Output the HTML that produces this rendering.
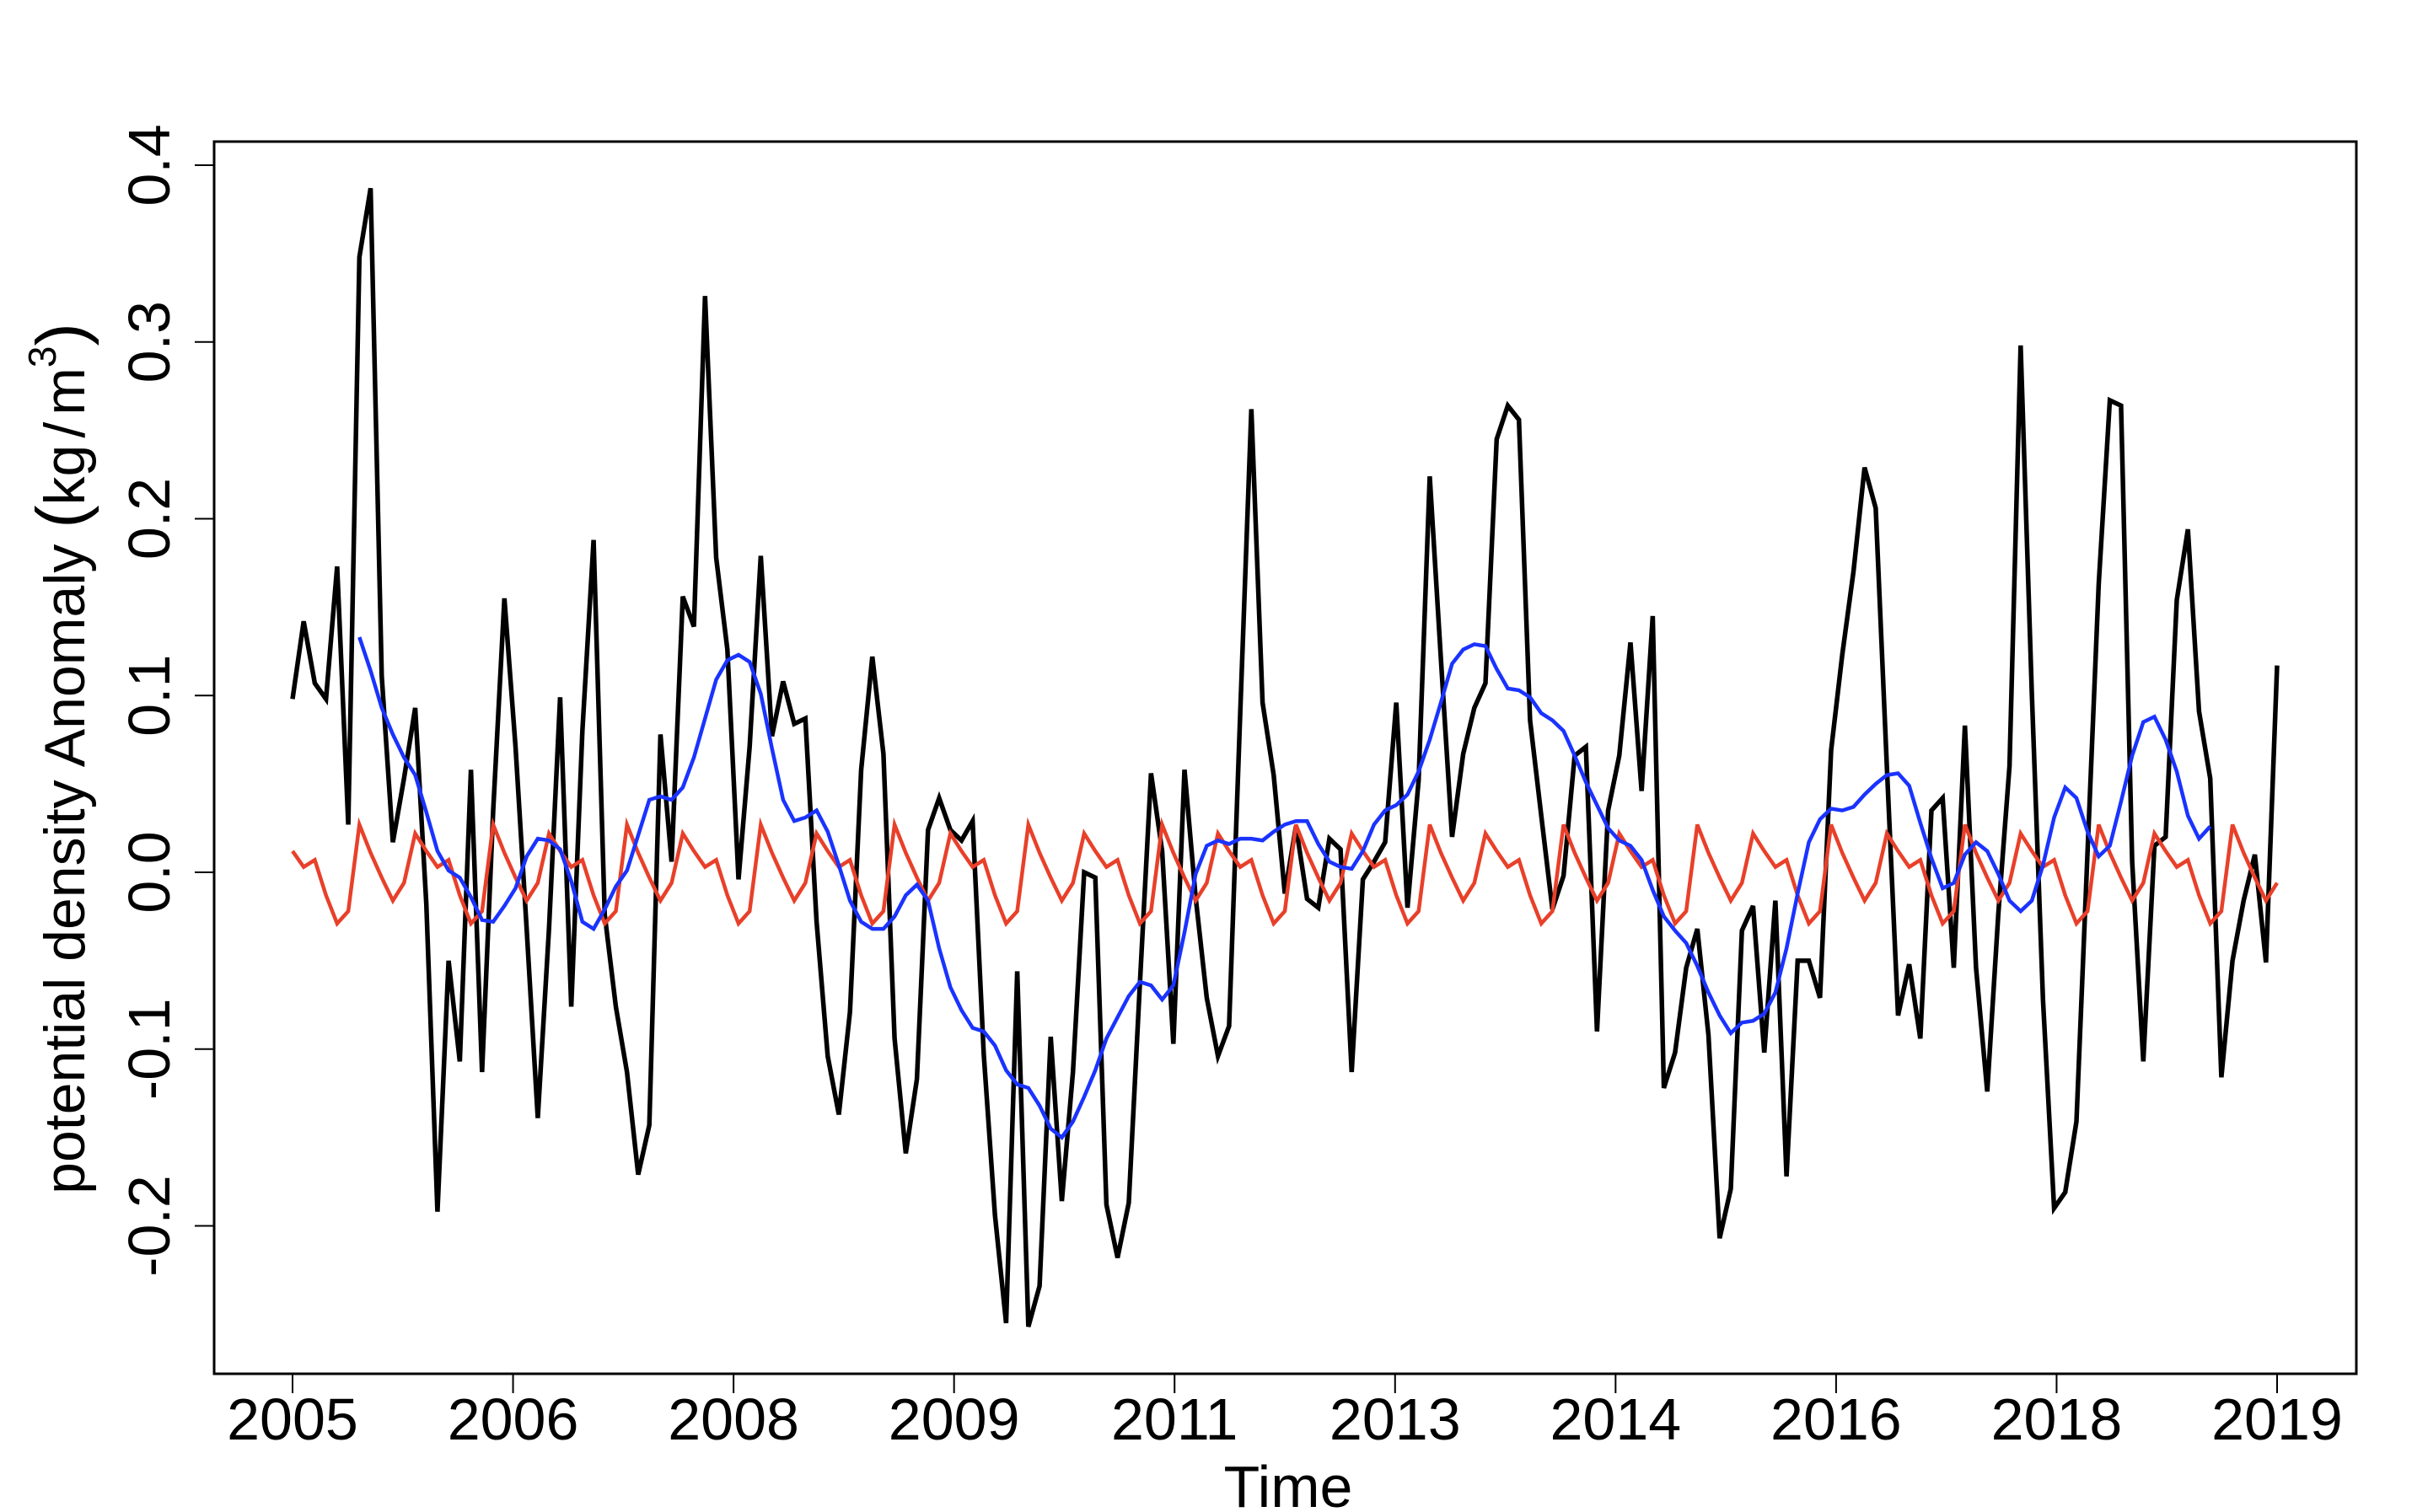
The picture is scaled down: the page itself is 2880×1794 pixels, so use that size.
<!DOCTYPE html>
<html><head><meta charset="utf-8"><style>
html,body{margin:0;padding:0;background:#fff;}
svg{display:block;font-family:"Liberation Sans",Arial,sans-serif;}
</style></head><body>
<svg id="chart" width="2880" height="1794" viewBox="0 0 2880 1794" xmlns="http://www.w3.org/2000/svg">
<rect x="0" y="0" width="2880" height="1794" fill="#fff"/>
<rect x="254" y="168" width="2541" height="1462" fill="none" stroke="#000" stroke-width="3"/>
<g id="xaxis"></g>
<g id="yaxis"></g>
<g id="series"></g>
<text x="1528" y="1788" font-size="70" text-anchor="middle">Time</text>
<text transform="translate(100,900) rotate(-90)" font-size="68" text-anchor="middle">potential density Anomaly <tspan font-size="82">(</tspan>kg<tspan dx="8">/</tspan><tspan dx="8">m</tspan><tspan font-size="46" dy="-34">3</tspan><tspan font-size="82" dy="34">)</tspan></text>
</svg>
<script>
const xTickLabels = ["2005","2006","2008","2009","2011","2013","2014","2016","2018","2019"];
const yTickValues = [-0.2,-0.1,0.0,0.1,0.2,0.3,0.4];
const observed = [0.098,0.142,0.107,0.098,0.173,0.027,0.348,0.387,0.111,0.017,0.053,0.093,-0.018,-0.192,-0.050,-0.107,0.058,-0.113,0.035,0.155,0.071,-0.032,-0.139,-0.032,0.099,-0.076,0.080,0.188,-0.024,-0.076,-0.113,-0.171,-0.143,0.078,0.006,0.156,0.139,0.326,0.178,0.126,-0.004,0.071,
0.179,0.077,0.108,0.084,0.087,-0.028,-0.104,-0.137,-0.079,0.058,0.122,0.067,-0.094,-0.159,-0.117,0.024,0.042,0.024,0.018,0.029,-0.103,-0.194,-0.255,-0.056,-0.257,-0.234,-0.093,-0.186,-0.113,0.000,-0.003,-0.188,-0.218,-0.187,-0.063,0.056,0.012,-0.097,0.058,-0.014,-0.071,
-0.104,-0.087,0.090,0.262,0.096,0.055,-0.012,0.026,-0.015,-0.020,0.019,0.013,-0.113,-0.004,0.006,0.017,0.096,-0.020,0.052,0.224,0.121,0.020,0.067,0.093,0.107,0.245,0.264,0.256,0.086,0.032,-0.021,-0.002,0.066,0.071,-0.090,0.035,0.066,0.130,0.046,0.145,
-0.122,-0.102,-0.054,-0.032,-0.092,-0.207,-0.179,-0.033,-0.019,-0.102,-0.016,-0.172,-0.050,-0.050,-0.071,0.069,0.123,0.170,0.229,0.206,0.060,-0.081,-0.052,-0.094,0.035,0.042,-0.054,0.083,-0.054,-0.124,-0.023,0.060,0.298,0.101,-0.072,-0.190,-0.181,-0.141,0.012,0.163,0.267,0.264,0.006,-0.107,0.015,0.020,0.154,0.194,0.091,0.053,-0.116,-0.050,-0.016,0.010,-0.051,0.117];
const seasonal = [0.012,0.003,0.007,-0.013,-0.029,-0.022,0.027,0.011,-0.003,-0.016,-0.006,0.022];
const trend = [null,null,null,null,null,null,
0.133,0.114,0.093,0.078,0.065,0.055,0.034,0.012,0.001,-0.003,-0.014,-0.027,-0.028,-0.019,-0.009,0.009,0.019,0.018,0.013,-0.005,-0.028,-0.032,-0.021,-0.008,0.001,0.021,0.041,0.043,0.041,0.048,0.065,0.087,0.109,0.120,0.123,0.119,
0.101,0.070,0.041,0.029,0.031,0.035,0.023,0.004,-0.016,-0.028,-0.032,-0.032,-0.025,-0.013,-0.007,-0.016,-0.043,-0.065,-0.078,-0.088,-0.090,-0.098,-0.112,-0.120,-0.122,-0.132,-0.145,-0.150,-0.141,-0.127,-0.112,-0.094,-0.082,-0.070,-0.062,-0.064,-0.072,-0.064,-0.034,-0.001,
0.015,0.018,0.016,0.019,0.019,0.018,0.023,0.027,0.029,0.029,0.016,0.006,0.003,0.002,0.012,0.027,0.035,0.038,0.044,0.057,0.075,0.096,0.118,0.126,0.129,0.128,0.115,0.104,0.103,0.099,0.090,0.086,0.080,0.066,0.051,0.038,0.025,0.018,0.015,0.007,-0.010,
-0.025,-0.033,-0.040,-0.053,-0.068,-0.081,-0.091,-0.085,-0.084,-0.080,-0.068,-0.043,-0.012,0.017,0.030,0.036,0.035,0.037,0.044,0.050,0.055,0.056,0.049,0.028,0.008,-0.009,-0.006,0.010,0.017,0.012,-0.001,-0.016,-0.022,-0.016,0.004,0.031,0.048,0.042,0.023,0.009,0.015,0.040,0.066,0.085,0.088,0.075,0.057,0.032,0.019,0.026,
null,null,null,null,null,null];

const NS = "http://www.w3.org/2000/svg";
const X0 = 347, X1 = 2701, Y0 = 1035, YPER = 2097.5;
const N = observed.length;
function xScale(i){ return X0 + i * (X1 - X0) / (N - 1); }
function yScale(v){ return Y0 - v * YPER; }
function tickX(k){ return X0 + k * (X1 - X0) / (xTickLabels.length - 1); }

const xa = document.getElementById('xaxis');
const ya = document.getElementById('yaxis');
const sg = document.getElementById('series');

xTickLabels.forEach((lab, k) => {
  const x = tickX(k);
  const t = document.createElementNS(NS, 'line');
  t.setAttribute('x1', x); t.setAttribute('x2', x); t.setAttribute('y1', 1630); t.setAttribute('y2', 1653);
  t.setAttribute('stroke', '#000'); t.setAttribute('stroke-width', 2);
  
  
  xa.appendChild(t);
  const tx = document.createElementNS(NS, 'text');
  tx.setAttribute('x', x); tx.setAttribute('y', 1708); tx.setAttribute('font-size', 70); tx.setAttribute('text-anchor', 'middle');
  tx.textContent = lab;
  
  
  xa.appendChild(tx);
});

yTickValues.forEach(v => {
  const y = yScale(v);
  const t = document.createElementNS(NS, 'line');
  t.setAttribute('x1', 231); t.setAttribute('x2', 254); t.setAttribute('y1', y); t.setAttribute('y2', y);
  t.setAttribute('stroke', '#000'); t.setAttribute('stroke-width', 2);
  
  
  ya.appendChild(t);
  const tx = document.createElementNS(NS, 'text');
  tx.setAttribute('transform', 'translate(201,' + y + ') rotate(-90)');
  tx.setAttribute('font-size', 70); tx.setAttribute('text-anchor', 'middle');
  tx.textContent = v.toFixed(1);
  
  
  ya.appendChild(tx);
});

function pathFor(vals){
  let d = '', pen = false;
  vals.forEach((v, i) => {
    if (v === null || v === undefined) { pen = false; return; }
    d += (pen ? 'L' : 'M') + xScale(i).toFixed(1) + ' ' + yScale(v).toFixed(1) + ' ';
    pen = true;
  });
  return d;
}
const seasonalSeries = observed.map((_, i) => seasonal[i % 12]);

const pObs = document.createElementNS(NS, 'path');
pObs.setAttribute('d', pathFor(observed));
pObs.setAttribute('fill', 'none'); pObs.setAttribute('stroke', '#000'); pObs.setAttribute('stroke-width', 5.5); pObs.setAttribute('stroke-linejoin', 'miter');


sg.appendChild(pObs);

const pSea = document.createElementNS(NS, 'path');
pSea.setAttribute('d', pathFor(seasonalSeries));
pSea.setAttribute('fill', 'none'); pSea.setAttribute('stroke', '#e8402a'); pSea.setAttribute('stroke-width', 4.5);


sg.appendChild(pSea);

const pTr = document.createElementNS(NS, 'path');
pTr.setAttribute('d', pathFor(trend));
pTr.setAttribute('fill', 'none'); pTr.setAttribute('stroke', '#1a33ff'); pTr.setAttribute('stroke-width', 4.5);


sg.appendChild(pTr);
</script>
</body></html>
